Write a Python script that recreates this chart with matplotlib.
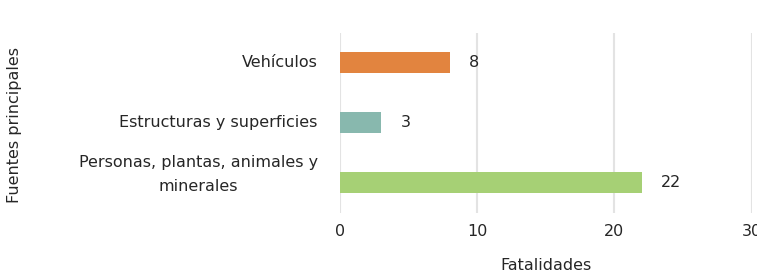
import matplotlib
matplotlib.use("Agg")
import matplotlib.pyplot as plt
from matplotlib.transforms import ScaledTranslation

# data
categories = ["Vehículos", "Estructuras y superficies", "Personas, plantas, animales y\nminerales"]
values = [8, 3, 22]
colors = ["#E2843F", "#88B8AE", "#A6D075"]
xticks = [0, 10, 20, 30]

txt = "#262626"
fs = 11.5
fig = plt.figure(figsize=(7.57, 2.74), dpi=100)
ax = fig.add_axes([0.449, 0.223, 0.544, 0.657])

ypos = list(range(len(categories)))
bars = ax.barh(ypos, values, height=0.35, color=colors, zorder=3)

ax.set_xlim(0, 30)
ax.set_ylim(2.5, -0.5)
ax.set_xticks(xticks)
ax.set_yticks(ypos)
ax.set_yticklabels(categories, multialignment="center", linespacing=1.75)
ax.grid(axis="x", color="#E3E3E3", linewidth=1.5, zorder=0)
for s in ax.spines.values():
    s.set_visible(False)
ax.tick_params(axis="both", length=0, labelsize=fs, labelcolor=txt)
ax.tick_params(axis="y", pad=16)
ax.tick_params(axis="x", pad=8)

# two-line label sits a bit higher, like the original
for t in ax.get_yticklabels():
    t.set_verticalalignment("center")
    if "\n" in t.get_text():
        t.set_transform(t.get_transform() + ScaledTranslation(0, 0.08, fig.dpi_scale_trans))

for b, v in zip(bars, values):
    ax.annotate(str(v), (b.get_width(), b.get_y() + b.get_height() / 2),
                xytext=(14, 0), textcoords="offset points",
                va="center", ha="left", fontsize=fs, color=txt)

ax.set_xlabel("Fatalidades", fontsize=fs, color=txt, labelpad=14)
fig.text(0.019, 0.545, "Fuentes principales", rotation=90, ha="center",
         va="center", fontsize=fs, color=txt)

fig.savefig("out.png", dpi=100)
